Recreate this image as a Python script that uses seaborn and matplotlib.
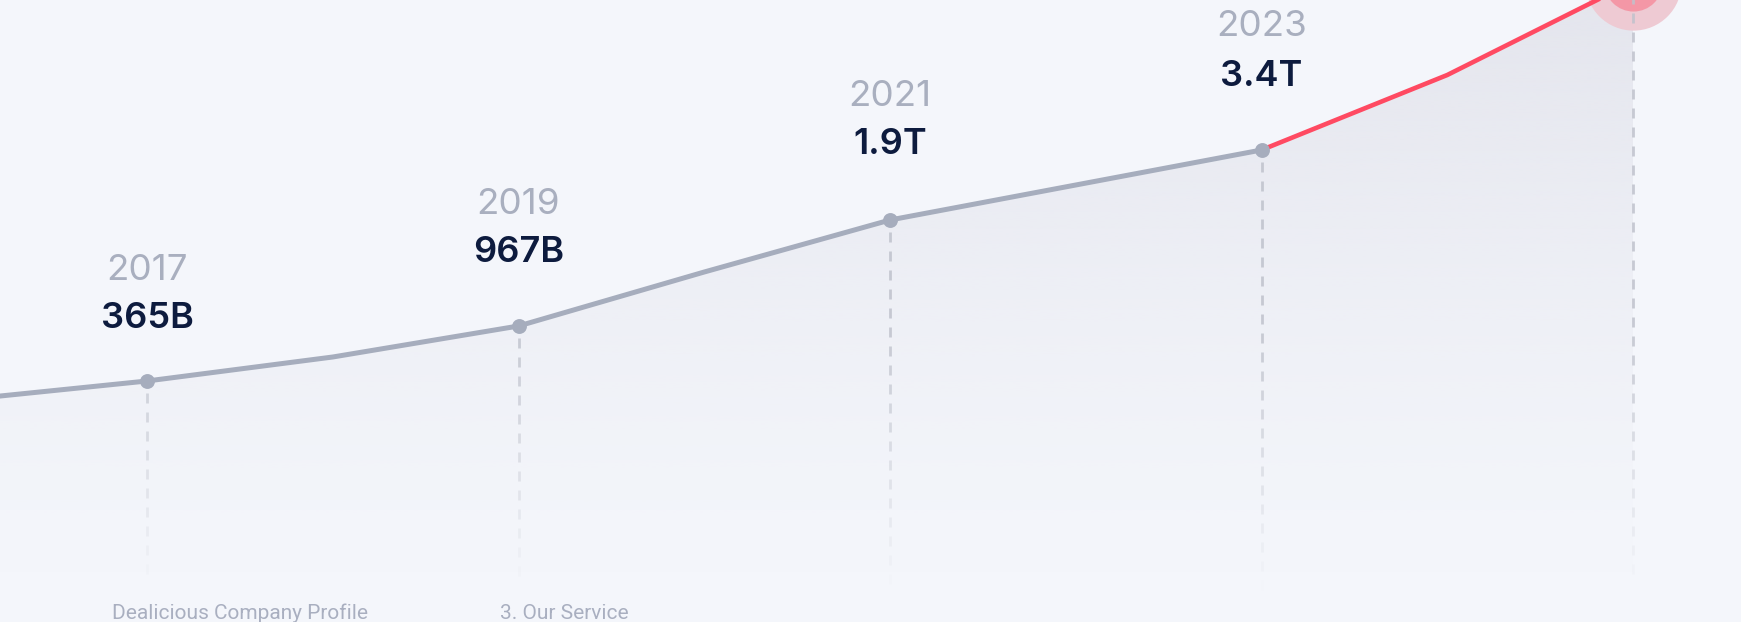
# Market growth line - slide style recreation

import numpy as np
import matplotlib.pyplot as plt
import seaborn as sns
from matplotlib.colors import to_rgba

# curve: height of the line above the bottom edge (px)
years = [2016, 2017, 2018, 2019, 2020, 2021, 2022, 2023, 2024, 2025]
levels = [222, 241, 265, 296, 350, 402, 437, 472, 547, 640]

label_years = [2017, 2019, 2021, 2023]
label_values = ["365B", "967B", "1.9T", "3.4T"]
highlight_year = 2025
footer_texts = ["Dealicious Company Profile", "3. Our Service"]

# layout (px)
value_offset = [62, 73, 75, 74]
year_gap = 49
footer_x = [112, 500]

bg = "#F4F6FB"
gray_line = "#A6ADBD"
red_line = "#FF4A62"
year_col = "#A9AFBF"
value_col = "#0D1B3E"

sns.set_theme(style="white")
plt.rcParams["font.family"] = ["Inter", "DejaVu Sans"]

W, H = 1741, 622
fig = plt.figure(figsize=(W / 100, H / 100), dpi=100, facecolor=bg)
ax = fig.add_axes([0, 0, 1, 1])
ax.set_facecolor(bg)

px_per_year = (1633 - 147) / 8
x0 = 2017 - 147 / px_per_year
x1 = x0 + W / px_per_year

# gradient area under the curve
poly = ax.fill_between(years, levels, 0, color="none", zorder=1)
rows = np.linspace(680, 0, 300)
alpha = np.clip((rows - 40) / 600, 0, 1) ** 1.3
grad = np.zeros((len(rows), 2, 4))
grad[..., :3] = to_rgba("#E4E5ED")[:3]
grad[..., 3] = alpha[:, None]
img = ax.imshow(grad, extent=[x0, x1, 0, 680], aspect="auto", zorder=1)
img.set_clip_path(poly.get_paths()[0], transform=ax.transData)

# highlight rings
ax.scatter([highlight_year], [levels[-1]], s=4800, color="#EECAD3", lw=0, zorder=2)
ax.scatter([highlight_year], [levels[-1]], s=1750, color="#F497A6", lw=0, zorder=2)

# fading dashed drop lines
dash, period = 10, 19
for yr, lv in zip(label_years + [highlight_year], [levels[years.index(y)] for y in label_years] + [levels[-1]]):
    tops = np.arange(lv - 12, 40, -period)
    bots = tops - dash
    a = np.clip((tops - 40) / 260, 0, 1) * 0.85
    cols = [to_rgba("#BFC2CC", v) for v in a]
    ax.vlines([yr] * len(tops), bots, tops, colors=cols, lw=2, zorder=3)

# the line: gray history, red forecast
split = years.index(2023)
sns.lineplot(x=years[:split + 1], y=levels[:split + 1], ax=ax, color=gray_line,
             lw=3.6, sort=False, zorder=4, solid_capstyle="round")
sns.lineplot(x=years[split:], y=levels[split:], ax=ax, color=red_line,
             lw=3.3, sort=False, zorder=4, solid_capstyle="round")
dot_lv = [levels[years.index(y)] for y in label_years]
sns.scatterplot(x=label_years, y=dot_lv, ax=ax, color=gray_line, s=115,
                linewidth=0, zorder=5)

# labels
for yr, lv, val, off in zip(label_years, dot_lv, label_values, value_offset):
    ax.text(yr, lv + off, val, ha="center", va="center", fontsize=26,
            fontweight="semibold", color=value_col, zorder=6)
    ax.text(yr, lv + off + year_gap, str(yr), ha="center", va="center",
            fontsize=26.5, color=year_col, zorder=6)

for tx, fx in zip(footer_texts, footer_x):
    ax.text(x0 + fx / px_per_year, 3, tx, ha="left", va="baseline", fontsize=15,
            family=["Roboto", "DejaVu Sans"], color="#A9AFC0")

ax.set_xlim(x0, x1)
ax.set_ylim(0, H)
ax.axis("off")

plt.savefig("out.png", dpi=100, facecolor=bg)
